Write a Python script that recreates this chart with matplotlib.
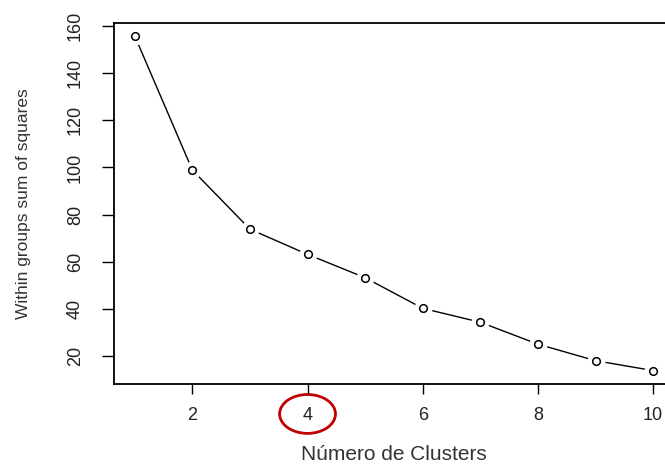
import matplotlib
matplotlib.use("Agg")
import matplotlib.pyplot as plt
from matplotlib.patches import Ellipse

clusters = [1, 2, 3, 4, 5, 6, 7, 8, 9, 10]
wss = [155.8, 98.9, 73.8, 63.1, 53.2, 40.2, 34.3, 25.0, 18.0, 13.8]
x_ticks = [2, 4, 6, 8, 10]
y_ticks = [20, 40, 60, 80, 100, 120, 140, 160]

plt.rcParams['font.family'] = ['Liberation Sans', 'DejaVu Sans']

fig = plt.figure(figsize=(6.65, 4.67), dpi=100)
ax = fig.add_axes([0.1714, 0.1777, 0.842, 0.7737])

# estilo type="b" de R: linea con huecos alrededor de los puntos
ax.plot(clusters, wss, color='black', lw=1.0, zorder=1)
ax.plot(clusters, wss, ls='none', marker='o', ms=13, mfc='white', mec='none', zorder=2)
ax.plot(clusters, wss, ls='none', marker='o', ms=5.5, mfc='white', mec='black', mew=1.1, zorder=3)

ax.set_xlim(0.64, 10.36)
ax.set_ylim(8.1, 161.4)
ax.set_xticks(x_ticks)
ax.set_yticks(y_ticks)
ax.tick_params(axis='x', direction='out', length=7.5, width=1, labelsize=13, pad=9, labelcolor='#222222')
ax.tick_params(axis='y', direction='out', length=8.5, width=1, labelsize=13, pad=13, labelcolor='#222222')
for lab in ax.get_yticklabels():
    lab.set_rotation(90)
    lab.set_va('center')
for s in ax.spines.values():
    s.set_linewidth(1.3)

ax.set_xlabel('Número de Clusters', fontsize=15, labelpad=15, color='#333333')
ax.set_ylabel('Within groups sum of squares', fontsize=12.5, labelpad=26, color='#333333')

ax.add_patch(Ellipse((4, -4.6), 0.97, 16.5, fill=False, edgecolor='#c00000', lw=2, clip_on=False))

fig.savefig('out.png', dpi=100)
